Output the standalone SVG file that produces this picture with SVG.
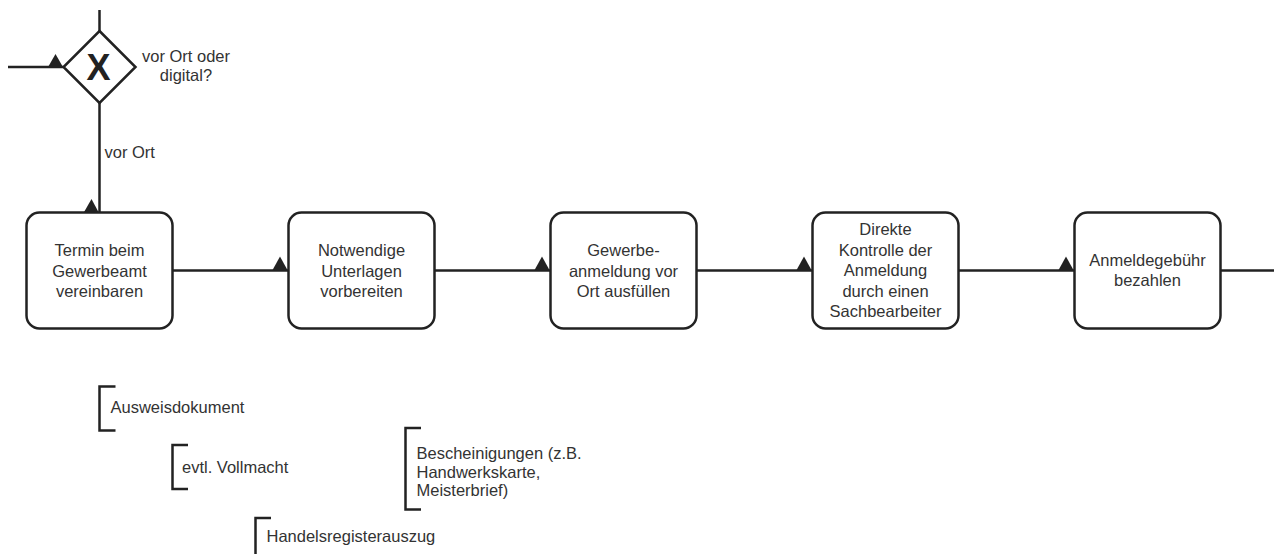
<svg xmlns="http://www.w3.org/2000/svg" width="1274" height="554" viewBox="0 0 1274 554">
<style>
.ln{fill:none;stroke:#222;stroke-width:2.5}
.task{fill:#fff;stroke:#222;stroke-width:2.5}
.ah{fill:#222;stroke:none}
.t{font-family:"Liberation Sans",Arial,sans-serif;font-size:16.5px;fill:#333}
.tc{text-anchor:middle}
.br{fill:none;stroke:#222;stroke-width:2.5}
</style>
<rect width="1274" height="554" fill="#fff"/>
<g id="connectors">
<line class="ln" x1="99.5" y1="10" x2="99.5" y2="31"/>
<line class="ln" x1="8" y1="67" x2="63.5" y2="67"/>
<polygon class="ah" points="47.5,68 63.5,68 55.5,54"/>
<line class="ln" x1="99.5" y1="103" x2="99.5" y2="212.5"/>
<polygon class="ah" points="83.5,213 99,213 91.5,199"/>
<text class="t" x="104.5" y="158">vor Ort</text>
<line class="ln" x1="172.5" y1="270.5" x2="288.5" y2="270.5"/>
<polygon class="ah" points="272,271 288,271 280,256.5"/>
<line class="ln" x1="434.5" y1="270.5" x2="550.5" y2="270.5"/>
<polygon class="ah" points="534,271 550,271 542,256.5"/>
<line class="ln" x1="696.5" y1="270.5" x2="812.5" y2="270.5"/>
<polygon class="ah" points="796,271 812,271 804,256.5"/>
<line class="ln" x1="958.5" y1="270.5" x2="1074.5" y2="270.5"/>
<polygon class="ah" points="1058,271 1074,271 1066,256.5"/>
<line class="ln" x1="1220.5" y1="270.5" x2="1274" y2="270.5"/>
</g>
<g id="gateway">
<polygon points="99.5,31 135.5,67 99.5,103 63.5,67" fill="#fff" stroke="#222" stroke-width="2.5"/>
<text x="98.5" y="80" text-anchor="middle" font-family="Liberation Sans,Arial,sans-serif" font-weight="bold" font-size="36" fill="#222">X</text>
<text class="t tc" x="186" y="62">vor Ort oder</text>
<text class="t tc" x="186" y="81">digital?</text>
</g>
<g id="task1">
<rect class="task" x="26.5" y="212.5" width="146" height="116" rx="13"/>
<text class="t tc" x="99.5" y="256">Termin beim</text>
<text class="t tc" x="99.5" y="276.5">Gewerbeamt</text>
<text class="t tc" x="99.5" y="297">vereinbaren</text>
</g>
<g id="task2">
<rect class="task" x="288.5" y="212.5" width="146" height="116" rx="13"/>
<text class="t tc" x="361.5" y="256">Notwendige</text>
<text class="t tc" x="361.5" y="276.5">Unterlagen</text>
<text class="t tc" x="361.5" y="297">vorbereiten</text>
</g>
<g id="task3">
<rect class="task" x="550.5" y="212.5" width="146" height="116" rx="13"/>
<text class="t tc" x="623.5" y="256">Gewerbe-</text>
<text class="t tc" x="623.5" y="276.5">anmeldung vor</text>
<text class="t tc" x="623.5" y="297">Ort ausfüllen</text>
</g>
<g id="task4">
<rect class="task" x="812.5" y="212.5" width="146" height="116" rx="13"/>
<text class="t tc" x="885.5" y="235">Direkte</text>
<text class="t tc" x="885.5" y="255.5">Kontrolle der</text>
<text class="t tc" x="885.5" y="276">Anmeldung</text>
<text class="t tc" x="885.5" y="296.5">durch einen</text>
<text class="t tc" x="885.5" y="317">Sachbearbeiter</text>
</g>
<g id="task5">
<rect class="task" x="1074.5" y="212.5" width="146" height="116" rx="13"/>
<text class="t tc" x="1147.5" y="265.5">Anmeldegebühr</text>
<text class="t tc" x="1147.5" y="286">bezahlen</text>
</g>
<g id="anno1">
<path class="br" d="M115.5,386.5 H99.5 V430.5 H115.5"/>
<text class="t" x="110.5" y="413">Ausweisdokument</text>
</g>
<g id="anno2">
<path class="br" d="M188,445 H172.5 V489 H188"/>
<text class="t" x="182" y="473">evtl. Vollmacht</text>
</g>
<g id="anno3">
<path class="br" d="M421,428 H405.5 V509.5 H421"/>
<text class="t" x="416.5" y="459">Bescheinigungen (z.B.</text>
<text class="t" x="416.5" y="477.5">Handwerkskarte,</text>
<text class="t" x="416.5" y="496">Meisterbrief)</text>
</g>
<g id="anno4">
<path class="br" d="M271,518 H255.5 V562 H271"/>
<text class="t" x="266.5" y="542">Handelsregisterauszug</text>
</g>
</svg>
